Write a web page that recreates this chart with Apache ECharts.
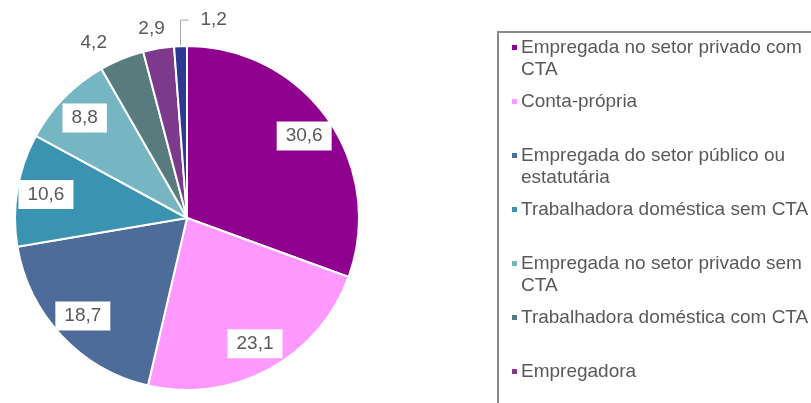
<!DOCTYPE html>
<html lang="pt">
<head>
<meta charset="UTF-8">
<title>Posição na ocupação</title>
<script src="https://cdn.jsdelivr.net/npm/echarts@6/dist/echarts.min.js"></script>
<style>
    html, body { margin: 0; background: #fff; }
    #chart { width: 811px; height: 403px; }
</style>
</head>
<body>
<div id="chart"></div>
<script>
// categorias (quebra de linha = como aparece na legenda)
var categories = [
    'Empregada no setor privado com\nCTA',
    'Conta-própria',
    'Empregada do setor público ou\nestatutária',
    'Trabalhadora doméstica sem CTA',
    'Empregada no setor privado sem\nCTA',
    'Trabalhadora doméstica com CTA',
    'Empregadora',
    'Trabalhadora familiar auxiliar'
];
var values = [30.6, 23.1, 18.7, 10.6, 8.8, 4.2, 2.9, 1.2];
var colors = ['#8f008f', '#ff99ff', '#4e6c9a', '#3a93b0', '#76b6c3', '#587b7d', '#7d3a8c', '#2b3a8e'];
var boxedLabel = [true, true, true, true, true, false, false, false];

var FONT = '"Liberation Sans", Arial, sans-serif';
var TXT = '#595959';

function fmt(v) {
    return String(v).replace('.', ',');
}

var rich = {
    t: { fontSize: 19, color: TXT, lineHeight: 22, fontFamily: FONT },
    g: { width: 4 },
    ind: { width: 9 }
};
colors.forEach(function (c, i) {
    rich['m' + i] = { width: 5, height: 5, backgroundColor: c };
});

var chart = echarts.init(document.getElementById('chart'));

var option = {
    backgroundColor: '#fff',
    animation: false,
    graphic: [{
        type: 'rect',
        z: -1,
        shape: { x: 498, y: 32, width: 420, height: 420 },
        style: { fill: 'none', stroke: '#8a8a8a', lineWidth: 2 }
    }],
    legend: {
        orient: 'vertical',
        left: 507,
        top: 38,
        padding: 0,
        itemGap: 13,
        icon: 'none',
        itemWidth: 0,
        itemHeight: 22,
        selectedMode: false,
        data: categories,
        textStyle: { rich: rich },
        formatter: function (name) {
            var i = categories.indexOf(name);
            var lines = name.split('\n');
            return '{m' + i + '|}{g|}{t|' + lines[0] + '}' +
                '\n{ind|}{t|' + (lines[1] || ' ') + '}';
        }
    },
    series: [
        {
            type: 'pie',
            center: [187, 218],
            radius: 172,
            startAngle: 90,
            silent: true,
            itemStyle: { borderColor: '#fff', borderWidth: 2 },
            label: {
                position: 'outside',
                fontSize: 19,
                color: TXT,
                fontFamily: FONT,
                formatter: function (p) { return fmt(p.value); }
            },
            labelLine: {
                length: 12,
                length2: 4,
                lineStyle: { color: '#a6a6a6', width: 1 }
            },
            labelLayout: function (p) {
                if (!p.labelLinePoints) return;
                var p0 = p.labelLinePoints[0];
                if (p.dataIndex === 7) {
                    var top = p0[1] - 26;
                    return {
                        x: p0[0] + 20,
                        y: top,
                        align: 'left',
                        verticalAlign: 'middle',
                        labelLinePoints: [p0, [p0[0], top], [p0[0] + 8, top]]
                    };
                }
                // 4,2 e 2,9: texto solto logo acima da fatia
                var off = { 5: [-28, -16], 6: [-7, -20] }[p.dataIndex];
                if (!off) return;
                return {
                    x: p0[0] + off[0],
                    y: p0[1] + off[1],
                    align: 'center',
                    verticalAlign: 'middle'
                };
            },
            data: values.map(function (v, i) {
                return {
                    name: categories[i],
                    value: v,
                    itemStyle: { color: colors[i] },
                    label: { show: !boxedLabel[i] },
                    labelLine: { show: i === 7 }
                };
            })
        },
        {
            // série transparente só para colocar os rótulos com caixa a ~80% do raio
            type: 'pie',
            center: [187, 218],
            radius: [0, 280],
            startAngle: 90,
            silent: true,
            z: 3,
            itemStyle: { color: 'rgba(0,0,0,0)' },
            label: {
                position: 'inside',
                fontSize: 19,
                color: TXT,
                fontFamily: FONT,
                backgroundColor: '#fff',
                padding: [5, 9],
                formatter: function (p) { return fmt(p.value); }
            },
            labelLine: { show: false },
            data: values.map(function (v, i) {
                return {
                    name: categories[i],
                    value: v,
                    label: { show: boxedLabel[i] }
                };
            })
        }
    ]
};

chart.setOption(option);
</script>
</body>
</html>
